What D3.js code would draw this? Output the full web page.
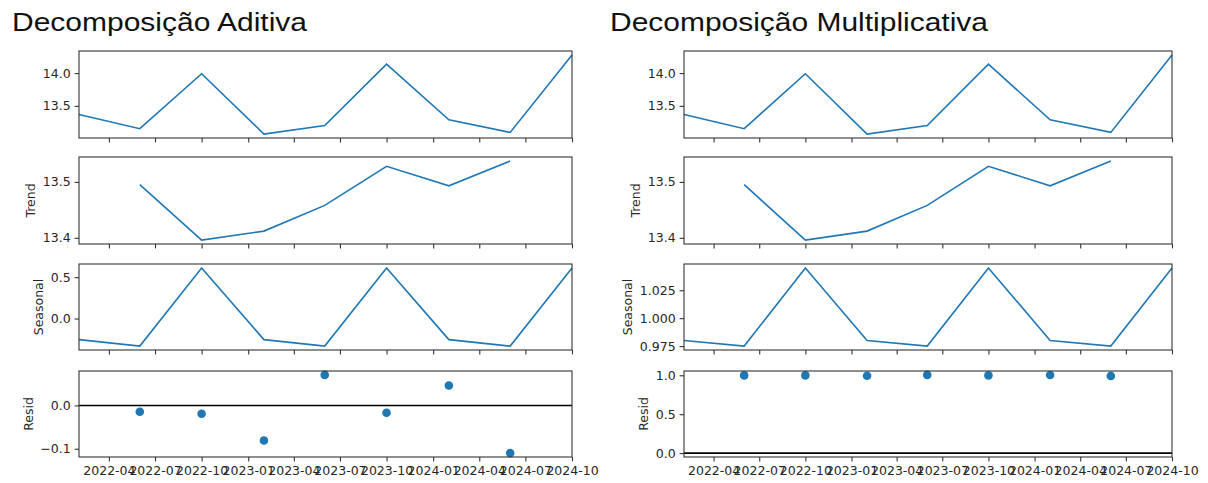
<!DOCTYPE html>
<html>
<head>
<meta charset="utf-8">
<script src="https://cdn.jsdelivr.net/npm/d3@7"></script>
<style>
  html, body { margin: 0; padding: 0; background: #fff; }
  svg { display: block; }
  .tick text { font-family: "DejaVu Sans", sans-serif; font-size: 12.5px; fill: #262626; }
</style>
</head>
<body>
<div id="chart"></div>
<script>
// time index (every 4 months)
const dates = ["2022-02-01", "2022-06-01", "2022-10-01", "2023-02-01", "2023-06-01",
               "2023-10-01", "2024-02-01", "2024-06-01", "2024-10-01"];

const observed = [13.368, 13.152, 13.99, 13.07, 13.20, 14.136, 13.288, 13.095, 14.277];
const trend = [null, 13.495, 13.396, 13.412, 13.458, 13.528, 13.493, 13.5375, null];

const seasonalAdd = [-0.255, -0.333, 0.612, -0.255, -0.333, 0.612, -0.255, -0.333, 0.612];
const residAdd = [null, -0.0144, -0.019, -0.081, 0.0705, -0.0167, 0.046, -0.11, null];

const seasonalMul = [0.980, 0.975, 1.045, 0.980, 0.975, 1.045, 0.980, 0.975, 1.045];
const residMul = [null, 0.999, 0.9986, 0.994, 1.005, 0.9988, 1.0034, 0.992, null];

const titles = ["Decomposição Aditiva", "Decomposição Multiplicativa"];
const rowLabels = ["", "Trend", "Seasonal", "Resid"];

const xTickLabels = ["2022-04", "2022-07", "2022-10", "2023-01", "2023-04", "2023-07",
                     "2023-10", "2024-01", "2024-04", "2024-07", "2024-10"];

const yTicksObserved = [13.5, 14.0];
const yTicksTrend = [13.4, 13.5];
const yTicksSeasonalAdd = [0.0, 0.5];
const yTicksResidAdd = [-0.1, 0.0];
const yTicksSeasonalMul = [0.975, 1.000, 1.025];
const yTicksResidMul = [0.0, 0.5, 1.0];

const W = 1208, H = 483;
const blue = "#1f77b4";
const spine = "#333";

const parse = d3.timeParse("%Y-%m-%d");
const parseTick = d3.timeParse("%Y-%m");
const xDates = dates.map(parse);

const columns = [
  {x0: 79, x1: 572, titleX: 12, titleW: 295,
   series: [observed, trend, seasonalAdd, residAdd],
   ticks: [yTicksObserved, yTicksTrend, yTicksSeasonalAdd, yTicksResidAdd],
   fmts: [".1f", ".1f", ".1f", ".1f"]},
  {x0: 684, x1: 1172, titleX: 610, titleW: 378,
   series: [observed, trend, seasonalMul, residMul],
   ticks: [yTicksObserved, yTicksTrend, yTicksSeasonalMul, yTicksResidMul],
   fmts: [".1f", ".1f", ".3f", ".1f"]}
];
const rows = [[51, 138], [157, 244], [264, 350], [371, 457]];

const svg = d3.select("#chart").append("svg")
  .attr("width", W).attr("height", H);
svg.append("rect").attr("width", W).attr("height", H).attr("fill", "#fff");

columns.forEach((col, ci) => {
  svg.append("text")
    .attr("x", col.titleX).attr("y", 31)
    .attr("font-family", "Liberation Sans, Arial, sans-serif")
    .attr("font-size", 26)
    .attr("textLength", col.titleW)
    .attr("lengthAdjust", "spacingAndGlyphs")
    .attr("fill", "#111")
    .text(titles[ci]);

  const x = d3.scaleTime()
    .domain(d3.extent(xDates))
    .range([col.x0, col.x1]);

  rows.forEach(([top, bottom], ri) => {
    const vals = col.series[ri];
    const isResid = ri === 3;
    const present = vals.filter(v => v != null);
    let lo = d3.min(present), hi = d3.max(present);
    if (isResid) { lo = Math.min(lo, 0); hi = Math.max(hi, 0); }
    const pad = (hi - lo) * 0.05;
    const y = d3.scaleLinear().domain([lo - pad, hi + pad]).range([bottom, top]);

    const g = svg.append("g");

    if (isResid) {
      g.append("line")
        .attr("x1", col.x0).attr("x2", col.x1)
        .attr("y1", y(0)).attr("y2", y(0))
        .attr("stroke", "#000").attr("stroke-width", 1.6);
      g.selectAll("circle")
        .data(vals.map((v, i) => ({d: xDates[i], v})).filter(p => p.v != null))
        .enter().append("circle")
        .attr("cx", p => x(p.d))
        .attr("cy", p => y(p.v))
        .attr("r", 4.3)
        .attr("fill", blue);
    } else {
      const line = d3.line()
        .defined(v => v != null)
        .x((v, i) => x(xDates[i]))
        .y(v => y(v));
      g.append("path")
        .datum(vals)
        .attr("d", line)
        .attr("fill", "none")
        .attr("stroke", blue)
        .attr("stroke-width", 1.6);
    }

    // frame
    g.append("rect")
      .attr("x", col.x0).attr("y", top)
      .attr("width", col.x1 - col.x0).attr("height", bottom - top)
      .attr("fill", "none").attr("stroke", spine).attr("stroke-width", 1.1);

    // y axis
    const yAxis = svg.append("g")
      .attr("transform", `translate(${col.x0},0)`)
      .call(d3.axisLeft(y)
        .tickValues(col.ticks[ri])
        .tickFormat(d3.format(col.fmts[ri]))
        .tickSize(4.4).tickPadding(4));
    yAxis.select(".domain").remove();
    yAxis.selectAll(".tick line").attr("stroke", spine).attr("stroke-width", 1.1);

    // x axis
    const xAxis = svg.append("g")
      .attr("transform", `translate(0,${bottom})`)
      .call(d3.axisBottom(x)
        .tickValues(xTickLabels.map(parseTick))
        .tickFormat(d3.timeFormat("%Y-%m"))
        .tickSize(4.4).tickPadding(5));
    xAxis.select(".domain").remove();
    xAxis.selectAll(".tick line").attr("stroke", spine).attr("stroke-width", 1.1);
    if (ri !== 3) xAxis.selectAll(".tick text").remove();

    // row label
    if (rowLabels[ri]) {
      const bb = yAxis.node().getBBox();
      const lx = col.x0 + bb.x - 12;
      svg.append("text")
        .attr("transform", `translate(${lx},${(top + bottom) / 2}) rotate(-90)`)
        .attr("text-anchor", "middle")
        .attr("dy", "0.35em")
        .attr("font-family", "DejaVu Sans, sans-serif")
        .attr("font-size", 12.5)
        .attr("fill", "#262626")
        .text(rowLabels[ri]);
    }
  });
});
</script>
</body>
</html>
